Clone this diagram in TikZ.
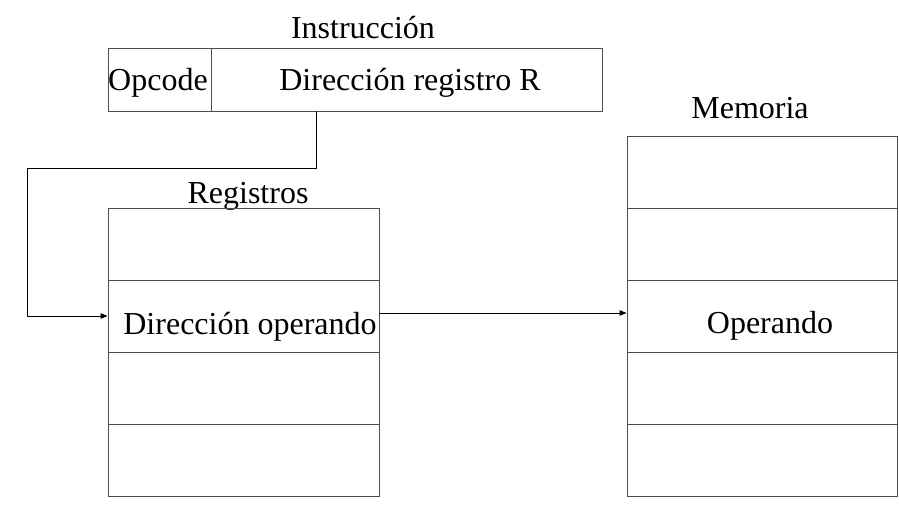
\documentclass[tikz,border=0pt]{standalone}
\usepackage{fontspec}
\setmainfont{Liberation Serif}
\usetikzlibrary{arrows.meta}
\begin{document}
\begin{tikzpicture}[x=1pt,y=-1pt,
  cell/.style={draw=black!70,line width=0.9pt,inner sep=0pt,minimum height=72pt},
  lbl/.style={inner sep=0pt,font=\fontsize{32}{38}\selectfont},
  arr/.style={draw=black,line width=0.9pt,-{Triangle[length=7pt,width=5.5pt]}}]
\useasboundingbox (0,0) rectangle (899,510);
% Instruction
\node[lbl] (tinst) at (363,28) {Instrucción};
\node[cell,minimum width=103pt,minimum height=63pt] (opc) at (159.5,79.5) {};
\node[cell,minimum width=391pt,minimum height=63pt] (dir) at (406.5,79.5) {};
\node[lbl] (topc) at (158,83) {Opcode};
\node[lbl] (tdir) at (410,83) {Dirección registro R};
% Registers
\node[lbl] (treg) at (248,196) {Registros};
\node[cell,minimum width=271pt] (r1) at (243.5,244) {};
\node[cell,minimum width=271pt] (r2) at (243.5,316) {};
\node[cell,minimum width=271pt] (r3) at (243.5,388) {};
\node[cell,minimum width=271pt] (r4) at (243.5,460) {};
\node[lbl] (tdop) at (250,327) {Dirección operando};
% Memory
\node[lbl] (tmem) at (750,108) {Memoria};
\node[cell,minimum width=270pt] (m1) at (762,172) {};
\node[cell,minimum width=270pt] (m2) at (762,244) {};
\node[cell,minimum width=270pt] (m3) at (762,316) {};
\node[cell,minimum width=270pt] (m4) at (762,388) {};
\node[cell,minimum width=270pt] (m5) at (762,460) {};
\node[lbl] (top) at (770,326) {Operando};
% Connectors
\coordinate (tap) at (316,111);
\coordinate (bend) at (27,168);
\draw[arr] (tap) |- (bend) |- (r2.west);
\draw[arr] ([yshift=3pt]r2.east) -- ([yshift=3pt]m3.west);
\end{tikzpicture}
\end{document}
